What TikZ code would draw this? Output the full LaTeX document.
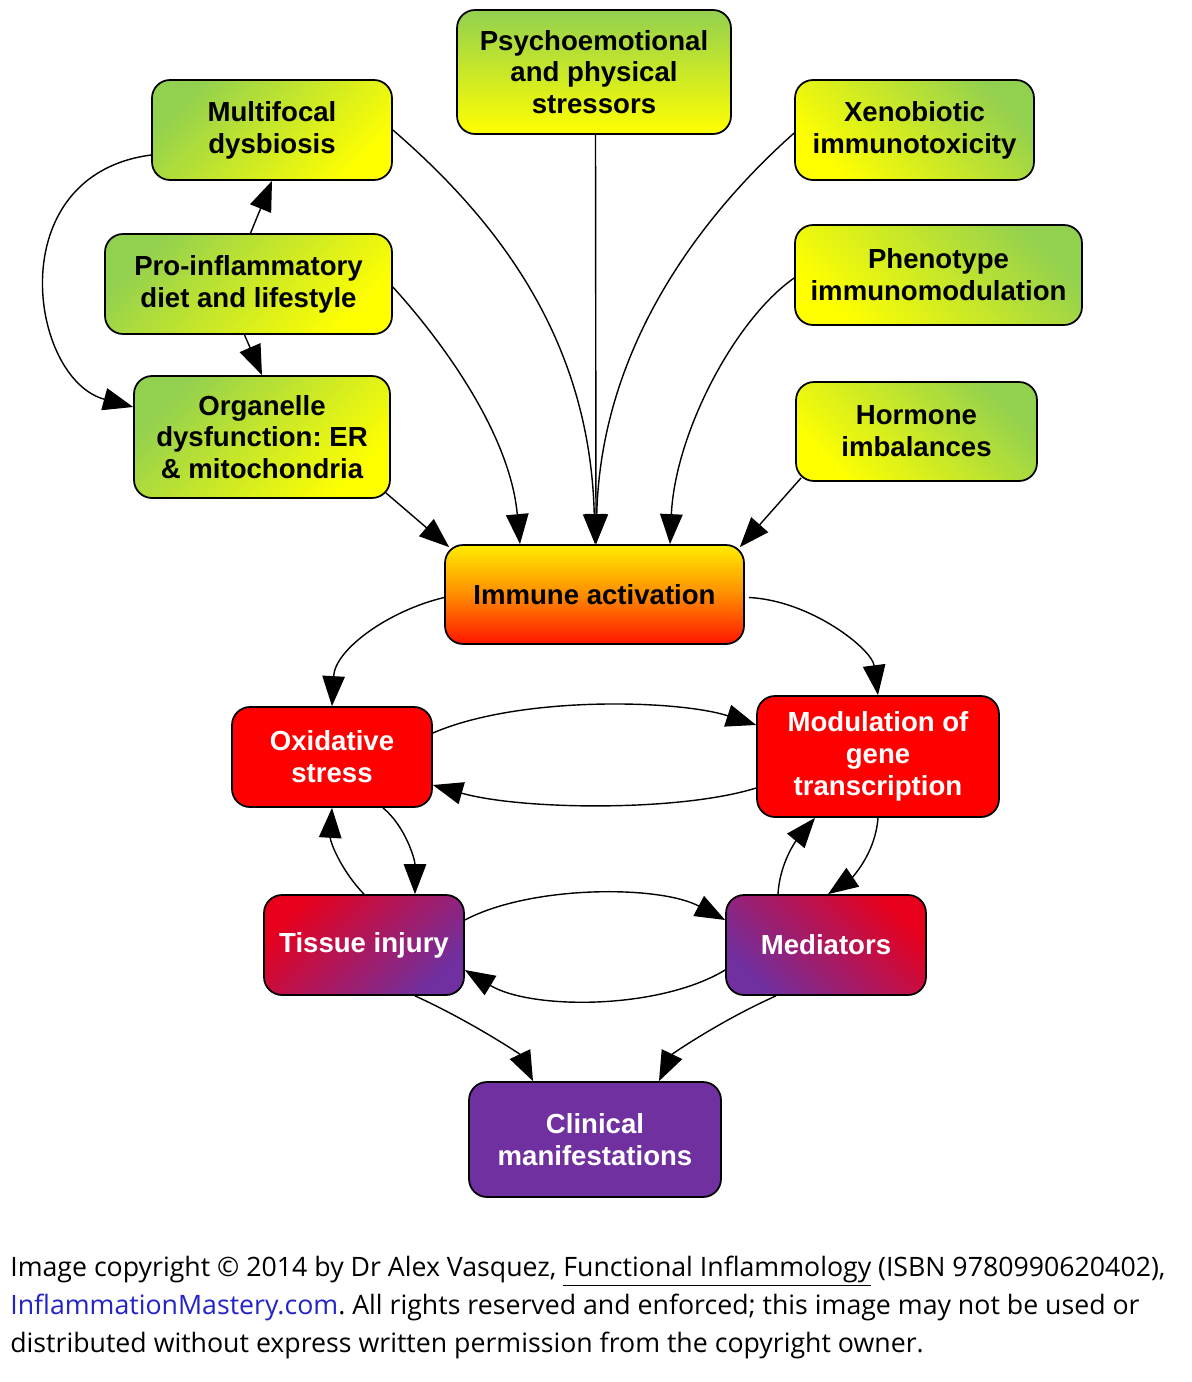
\documentclass[tikz,border=0pt]{standalone}
\usepackage{fontspec}
\setmainfont{Liberation Sans}
\newfontfamily\footfont{Open Sans}
\usetikzlibrary{arrows.meta,calc}
\definecolor{lgreen}{RGB}{146,208,80}
\definecolor{lyellow}{RGB}{255,255,0}
\definecolor{iyellow}{RGB}{255,236,0}
\definecolor{iorange}{RGB}{255,140,0}
\definecolor{ired}{RGB}{255,20,0}
\definecolor{bred}{RGB}{255,0,0}
\definecolor{tred}{RGB}{232,0,28}
\definecolor{bpurple}{RGB}{112,48,160}
\definecolor{linkblue}{RGB}{35,35,200}
\frenchspacing
\begin{document}
\begin{tikzpicture}[x=0.02cm,y=-0.02cm,
  box/.style={draw=black, line width=1pt, rounded corners=0.36cm, align=center,
    font=\fontsize{15.7}{18.1}\selectfont\bfseries, inner sep=0pt},
  gleft/.style={box, top color=lgreen, bottom color=lyellow, shading angle=45},
  gright/.style={box, top color=lgreen, bottom color=lyellow, shading angle=-45},
  gtop/.style={box, top color=lgreen, bottom color=lyellow},
  immune/.style={box, top color=iyellow, bottom color=ired, middle color=iorange},
  redbox/.style={box, fill=bred, text=white},
  tissue/.style={box, top color=tred, bottom color=bpurple, shading angle=45, text=white},
  medi/.style={box, top color=tred, bottom color=bpurple, shading angle=-45, text=white},
  clin/.style={box, fill=bpurple, text=white},
  arr/.style={-{Triangle[length=0.6cm,width=0.45cm]}, line width=0.8pt, black}]
\useasboundingbox (0,0) rectangle (1191,1382);
\fill[white] (0,0) rectangle (1191,1382);

% nodes
\node[gleft, minimum width=4.8cm, minimum height=2cm] (mf) at (272,130) {Multifocal\\dysbiosis};
\node[gleft, minimum width=5.74cm, minimum height=2cm] (pro) at (248.5,284) {Pro-inflammatory\\diet and lifestyle};
\node[gleft, minimum width=5.12cm, minimum height=2.44cm] (org) at (262,437) {Organelle\\dysfunction: ER\\\& mitochondria};
\node[gtop, minimum width=5.48cm, minimum height=2.48cm] (psy) at (594,72) {Psychoemotional\\and physical\\stressors};
\node[gright, minimum width=4.78cm, minimum height=2cm] (xen) at (914.5,130) {Xenobiotic\\immunotoxicity};
\node[gright, minimum width=5.74cm, minimum height=2cm] (phe) at (938.5,275) {Phenotype\\immunomodulation};
\node[gright, minimum width=4.82cm, minimum height=1.98cm] (hor) at (916.5,431.5) {Hormone\\imbalances};
\node[immune, minimum width=5.98cm, minimum height=1.98cm] (imm) at (594.5,594.5) {Immune activation};
\node[redbox, minimum width=4cm, minimum height=2cm] (ox) at (332,757) {Oxidative\\stress};
\node[redbox, minimum width=4.84cm, minimum height=2.42cm] (mod) at (878,756.5) {Modulation of\\gene\\transcription};
\node[tissue, minimum width=4cm, minimum height=2cm] (tis) at (364,945) {Tissue injury};
\node[medi, minimum width=4cm, minimum height=2cm] (med) at (826,945) {Mediators};
\node[clin, minimum width=5.04cm, minimum height=2.3cm] (cli) at (595,1139.5) {Clinical\\manifestations};

% upper connectors
\draw[arr] ($(pro.north)+(2,0)$) -- (mf.south);
\draw[arr] ($(pro.south)+(-4,0)$) -- (org.north);
\draw[arr] ($(mf.west)+(0,25)$) .. controls +(-152,20) and +(-104,-28) .. ($(org.west)+(0,-30)$);
\draw[arr] ($(org.south east)+(-5,-6)$) -- ($(imm.north west)+(5,3)$);
\draw[arr] (mf.east) .. controls +(110,95) and +(-5,-200) .. ($(imm.north)+(0.5,0)$);
\draw[arr] ($(pro.east)+(0,3)$) .. controls +(50,55) and +(-10,-110) .. ($(imm.north)+(-74.5,0)$);
\draw[arr] ($(psy.south)+(1.5,0)$) -- ($(imm.north)+(1.5,0)$);
\draw[arr] ($(xen.west)+(0,3)$) .. controls +(-90,80) and +(5,-200) .. ($(imm.north)+(1.5,0)$);
\draw[arr] ($(phe.west)+(0,3)$) .. controls +(-60,42) and +(5,-110) .. ($(imm.north)+(75.5,0)$);
\draw[arr] ($(hor.south west)+(6,-4)$) -- ($(imm.north east)+(-5,3)$);

% middle connectors
\draw[arr] ($(imm.west)+(0,3)$) .. controls +(-55,13) and +(3,-57) .. (ox.north);
\draw[arr] ($(imm.east)+(4,3)$) .. controls +(62,3) and +(-6,-46) .. (mod.north);
\draw[arr] ($(ox.east)+(0,-24)$) .. controls +(88,-38) and +(-77,-25) .. ($(mod.west)+(0,-31.5)$);
\draw[arr] ($(mod.west)+(0,31.5)$) .. controls +(-77,24) and +(88,25) .. ($(ox.east)+(0,28)$);
\draw[arr] (tis.north) .. controls +(-24,-25) and +(-2,33) .. (ox.south);
\draw[arr] ($(ox.south)+(51,0)$) .. controls +(22,18) and +(0,-35) .. ($(tis.north)+(51,0)$);
\draw[arr] ($(med.north)+(-48,0)$) .. controls +(2,-35) and +(-15,18) .. ($(mod.south)+(-63,0)$);
\draw[arr] (mod.south) .. controls +(-3,38) and +(22,-15) .. ($(med.north)+(2,0)$);

% lower connectors
\draw[arr] ($(tis.east)+(0,-25)$) .. controls +(66,-35) and +(-66,-35) .. ($(med.west)+(0,-25)$);
\draw[arr] ($(med.west)+(0,25)$) .. controls +(-66,40) and +(66,40) .. ($(tis.east)+(0,25)$);
\draw[arr] ($(tis.south)+(51,0)$) .. controls +(55,25) and +(-13,-27) .. ($(cli.north)+(-62,0)$);
\draw[arr] ($(med.south)+(-50,0)$) .. controls +(-56,25) and +(13,-27) .. ($(cli.north)+(64,0)$);

% footer
\node[anchor=north west, align=left, inner sep=0pt,
  font=\footfont\fontsize{15.2}{21.5}\selectfont] (foot) at (10,1256)
  {Image copyright \textcopyright{} 2014 by Dr Alex Vasquez, \underline{Functional Inflammology} (ISBN 9780990620402),\\
   \textcolor{linkblue}{InflammationMastery.com}. All rights reserved and enforced; this image may not be used or\\
   distributed without express written permission from the copyright owner.};
\end{tikzpicture}
\end{document}
